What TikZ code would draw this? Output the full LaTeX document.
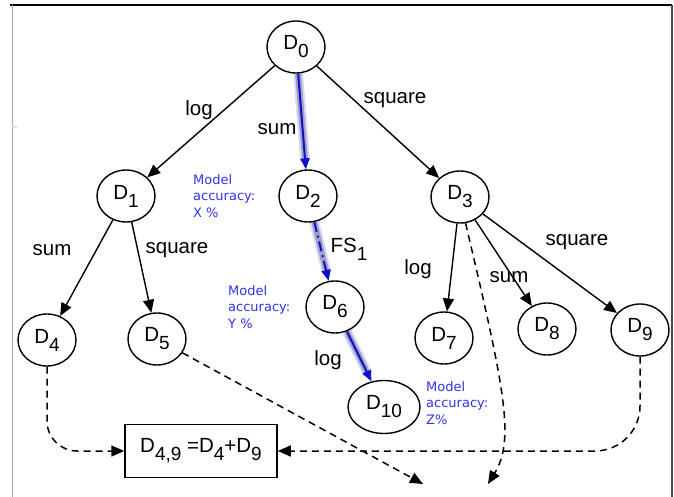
\documentclass[tikz,border=0pt]{standalone}
\usepackage{fontspec}
\setmainfont{Liberation Sans}
\newfontfamily\notefont{DejaVu Sans}
\usepackage{xcolor}
\usepackage{tikz}
\usetikzlibrary{arrows.meta, shapes.geometric}

\definecolor{accblue}{RGB}{50,50,235}
\definecolor{pathblue}{RGB}{15,15,200}
\definecolor{glowblue}{RGB}{110,110,255}

\newcommand{\dsub}[1]{\raisebox{-8pt}{\fontsize{19}{19}\selectfont #1}}

\tikzset{
	data/.style={ellipse, draw, line width=1.4pt, minimum width=58pt, minimum height=52pt, inner sep=0pt, font=\fontsize{20.5}{24}\selectfont},
	op/.style={inner sep=0pt, font=\fontsize{20.5}{24}\selectfont},
	note/.style={anchor=north west, align=left, inner sep=0pt, text=accblue, font={\notefont\fontsize{13}{16.5}\selectfont}},
	trans/.style={line width=1.4pt, -{Triangle[length=13pt,width=11pt]}},
	merge/.style={line width=1.5pt, dash pattern=on 7pt off 5pt, -{Triangle[length=13pt,width=11pt]}},
	glow/.style={line width=10pt, glowblue, opacity=0.25, shorten >=8pt, preaction={draw, line width=6pt, opacity=0.3}},
	best/.style={line width=2pt, pathblue, -{Triangle[length=11pt,width=9pt]}},
}

\begin{document}
\begin{tikzpicture}[x=1pt, y=-1pt]
				\useasboundingbox (0,0) rectangle (674,497);
				% Frame:
				\draw[line width=1.2pt] (10,5) -- (672,5);
				\draw[gray!70, line width=0.8pt] (12,5) -- (12,497);
				\draw[gray!60!black, line width=2pt] (672,5) -- (672,497);
				\draw[gray!30, line width=1.5pt] (12,127) -- (17,127);
				% Data sets:
				\node[data] (D0) at (296,47) {D\dsub{0}};
				\node[data] (D1) at (126,196) {D\dsub{1}};
				\node[data] (D2) at (308,196) {D\dsub{2}};
				\node[data] (D3) at (460,197) {D\dsub{3}};
				\node[data] (D4) at (47,340) {D\dsub{4}};
				\node[data] (D5) at (157,339) {D\dsub{5}};
				\node[data] (D6) at (335,307) {D\dsub{6}};
				\node[data] (D7) at (444,338) {D\dsub{7}};
				\node[data] (D8) at (547,329) {D\dsub{8}};
				\node[data] (D9) at (640,330) {D\dsub{9}};
				\node[data, minimum width=72pt, minimum height=53pt] (D10) at (384,407) {D\dsub{10}};
				\node[draw, line width=1.5pt, minimum width=152pt, minimum height=53pt, inner sep=0pt, font=\fontsize{20.5}{24}\selectfont] (D49) at (201,451) {D\dsub{4,9} =D\dsub{4}+D\dsub{9}};
				\coordinate (endA) at (423,484);
				\coordinate (endB) at (488,484);
				% Transformations:
				\draw[trans] (D0) -- (D1);
				\draw[trans] (D0) -- (D3);
				\draw[trans] (D1) -- (D4);
				\draw[trans] (D1) -- (D5);
				\draw[trans] (D3) -- (D7);
				\draw[trans] (D3) -- (D8);
				\draw[trans] (D3) -- (D9);
				\draw[glow] (D0) -- (D2);
				\draw[best] (D0) -- (D2);
				\draw[glow] (D2) -- (D6);
				\draw[best, dash pattern=on 10pt off 4pt on 2pt off 4pt] (D2) -- (D6);
				\draw[glow] (D6) -- (D10);
				\draw[best] (D6) -- (D10);
				% Merges:
				\draw[merge, rounded corners=30pt] (D4.south) |- (D49.west);
				\draw[merge, rounded corners=45pt] (D9.south) |- (D49.east);
				\draw[merge] (D5) -- (endA);
				\draw[merge] (D3.-78) .. controls (505,390) and (515,440) .. (endB);
				% Labels:
				\node[op] (logA) at (199,110) {log};
				\node[op] (sumA) at (277,129) {sum};
				\node[op] (sqA) at (395,100) {square};
				\node[op] (sumB) at (52,250) {sum};
				\node[op] (sqB) at (177,250) {square};
				\node[op] (fs) at (349,249) {FS\dsub{1}};
				\node[op] (logB) at (418,269) {log};
				\node[op] (sumC) at (509,277) {sum};
				\node[op] (sqC) at (577,242) {square};
				\node[op] (logC) at (328,360) {log};
				\node[note] (accX) at (193,174) {Model\\accuracy:\\X \%};
				\node[note] (accY) at (228,285) {Model\\accuracy:\\Y \%};
				\node[note] (accZ) at (426,381) {Model\\accuracy:\\Z\%};
			\end{tikzpicture}
\end{document}
